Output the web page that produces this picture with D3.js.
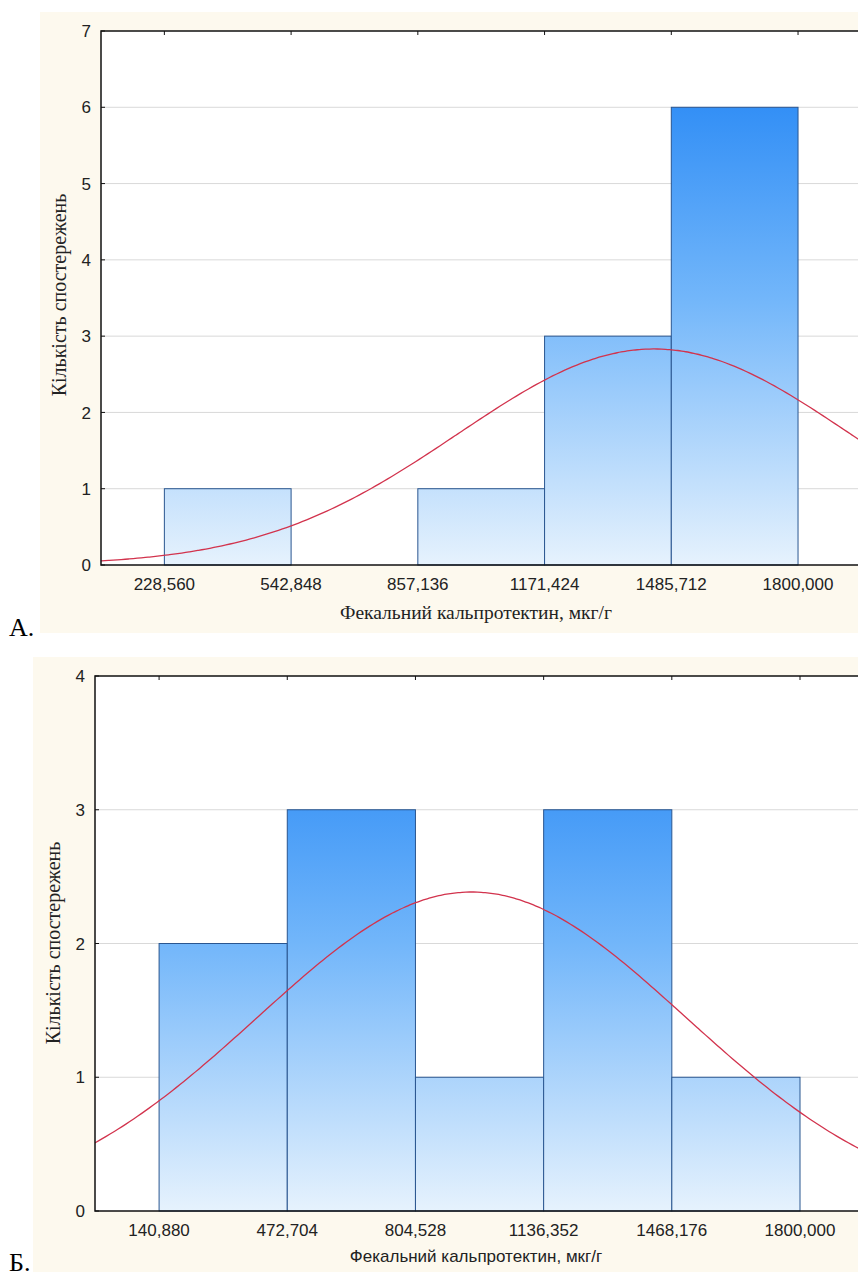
<!DOCTYPE html>
<html>
<head>
<meta charset="utf-8">
<script src="https://cdn.jsdelivr.net/npm/d3@7"></script>
<style>
  body { margin: 0; background: #fff; }
  svg { display: block; }
</style>
</head>
<body>
<svg id="chart" width="858" height="1278"></svg>
<script>
// chart A
var edgesA = [228.560, 542.848, 857.136, 1171.424, 1485.712, 1800.000];
var countsA = [1, 0, 1, 3, 6];
var yTicksA = [0, 1, 2, 3, 4, 5, 6, 7];
var fitA = { mean: 1443, sd: 487, n: 11 };

// chart B
var edgesB = [140.880, 472.704, 804.528, 1136.352, 1468.176, 1800.000];
var countsB = [2, 3, 1, 3, 1];
var yTicksB = [0, 1, 2, 3, 4];
var fitB = { mean: 950, sd: 555, n: 10 };

var yLabel = 'Кількість спостережень';
var xLabel = 'Фекальний кальпротектин, мкг/г';

var locale = d3.formatLocale({ decimal: ',', thousands: '', grouping: [3] });
var fmt = locale.format('.3f');

var svg = d3.select('#chart');
var defs = svg.append('defs');

function drawHist(cfg) {
    var edges = cfg.edges, w = edges[1] - edges[0];
    var g = svg.append('g');

    g.append('rect')
        .attr('x', cfg.panel[0]).attr('y', cfg.panel[1])
        .attr('width', cfg.panel[2]).attr('height', cfg.panel[3])
        .attr('fill', '#fdf9ee');

    var x = d3.scaleLinear()
        .domain([edges[0] - w / 2, edges[edges.length - 1] + w / 2])
        .range([cfg.left, cfg.right]);
    var y = d3.scaleLinear()
        .domain([0, d3.max(cfg.yTicks)])
        .range([cfg.bottom, cfg.top]);

    g.append('rect')
        .attr('x', cfg.left).attr('y', cfg.top)
        .attr('width', cfg.right - cfg.left).attr('height', cfg.bottom - cfg.top)
        .attr('fill', '#fff');

    var clipId = 'clip-' + cfg.id;
    defs.append('clipPath').attr('id', clipId)
        .append('rect')
        .attr('x', cfg.left).attr('y', cfg.top)
        .attr('width', cfg.right - cfg.left).attr('height', cfg.bottom - cfg.top);

    var gradId = 'grad-' + cfg.id;
    var grad = defs.append('linearGradient').attr('id', gradId)
        .attr('gradientUnits', 'userSpaceOnUse')
        .attr('x1', 0).attr('x2', 0)
        .attr('y1', cfg.bottom).attr('y2', cfg.top);
    grad.append('stop').attr('offset', 0).attr('stop-color', '#e6f2fd');
    grad.append('stop').attr('offset', 0.5).attr('stop-color', '#72b6fa');
    grad.append('stop').attr('offset', 1).attr('stop-color', '#1a80f4');

    // grid
    g.append('g').selectAll('line')
        .data(cfg.yTicks.slice(1, -1))
        .join('line')
        .attr('x1', cfg.left).attr('x2', cfg.right)
        .attr('y1', function(d) { return y(d); })
        .attr('y2', function(d) { return y(d); })
        .attr('stroke', '#d9d9d9').attr('stroke-width', 1);

    var bins = cfg.counts.map(function(c, i) {
        return { x0: edges[i], x1: edges[i + 1], n: c };
    });
    g.append('g').selectAll('rect')
        .data(bins.filter(function(d) { return d.n > 0; }))
        .join('rect')
        .attr('x', function(d) { return x(d.x0); })
        .attr('y', function(d) { return y(d.n); })
        .attr('width', function(d) { return x(d.x1) - x(d.x0); })
        .attr('height', function(d) { return y(0) - y(d.n); })
        .attr('fill', 'url(#' + gradId + ')')
        .attr('stroke', '#2a5690').attr('stroke-width', 1);

    // fitted normal curve
    var fit = cfg.fit;
    var pts = d3.range(x.domain()[0], x.domain()[1] + 1, 10).map(function(v) {
        var z = (v - fit.mean) / fit.sd;
        return [v, fit.n * w * Math.exp(-z * z / 2) / (fit.sd * Math.sqrt(2 * Math.PI))];
    });
    g.append('path')
        .datum(pts)
        .attr('clip-path', 'url(#' + clipId + ')')
        .attr('fill', 'none')
        .attr('stroke', '#d2334d').attr('stroke-width', 1.3)
        .attr('d', d3.line()
            .x(function(d) { return x(d[0]); })
            .y(function(d) { return y(d[1]); })
            .curve(d3.curveBasis));

    // frame
    g.append('rect')
        .attr('x', cfg.left).attr('y', cfg.top)
        .attr('width', cfg.right - cfg.left).attr('height', cfg.bottom - cfg.top)
        .attr('fill', 'none').attr('stroke', '#111').attr('stroke-width', 1.5);

    // top ticks
    g.append('g').selectAll('line')
        .data(edges)
        .join('line')
        .attr('x1', function(d) { return x(d); })
        .attr('x2', function(d) { return x(d); })
        .attr('y1', cfg.top).attr('y2', cfg.top + 4)
        .attr('stroke', '#111');

    // left ticks
    g.append('g').selectAll('line')
        .data(cfg.yTicks)
        .join('line')
        .attr('x1', cfg.left).attr('x2', cfg.left + 4)
        .attr('y1', function(d) { return y(d); })
        .attr('y2', function(d) { return y(d); })
        .attr('stroke', '#111');

    g.append('g').selectAll('text')
        .data(cfg.yTicks)
        .join('text')
        .attr('x', cfg.left - 10)
        .attr('y', function(d) { return y(d); })
        .attr('dy', '0.36em')
        .attr('text-anchor', 'end')
        .attr('font-family', 'Liberation Sans, Arial, sans-serif')
        .attr('font-size', 17)
        .attr('fill', '#222')
        .text(function(d) { return d; });

    g.append('g').selectAll('text')
        .data(edges)
        .join('text')
        .attr('x', function(d) { return x(d); })
        .attr('y', cfg.bottom + 25)
        .attr('text-anchor', 'middle')
        .attr('font-family', 'Liberation Sans, Arial, sans-serif')
        .attr('font-size', 17)
        .attr('fill', '#222')
        .text(function(d) { return fmt(d); });

    g.append('text')
        .attr('transform', 'translate(' + cfg.yLabelX + ',' + cfg.yLabelY + ') rotate(-90)')
        .attr('text-anchor', 'middle')
        .attr('font-family', 'Liberation Serif, Times New Roman, serif')
        .attr('font-size', 20)
        .attr('fill', '#222')
        .text(yLabel);

    g.append('text')
        .attr('x', 476).attr('y', cfg.xLabelY)
        .attr('text-anchor', 'middle')
        .attr('font-family', cfg.xLabelFont)
        .attr('font-size', cfg.xLabelSize)
        .attr('fill', '#222')
        .text(xLabel);

    svg.append('text')
        .attr('x', 9).attr('y', cfg.letterY)
        .attr('font-family', 'Liberation Serif, Times New Roman, serif')
        .attr('font-size', 26)
        .attr('fill', '#000')
        .text(cfg.letter);
}

drawHist({
    id: 'a', edges: edgesA, counts: countsA, yTicks: yTicksA, fit: fitA,
    panel: [40, 12, 818, 621],
    left: 101, right: 861.4, top: 31, bottom: 565,
    yLabelX: 66, yLabelY: 295, xLabelY: 619,
    xLabelFont: 'Liberation Serif, Times New Roman, serif', xLabelSize: 19.5,
    letter: 'A.', letterY: 636
});

drawHist({
    id: 'b', edges: edgesB, counts: countsB, yTicks: yTicksB, fit: fitB,
    panel: [33, 657, 825, 615],
    left: 95, right: 864.1, top: 676, bottom: 1211,
    yLabelX: 60, yLabelY: 943, xLabelY: 1262,
    xLabelFont: 'Liberation Sans, Arial, sans-serif', xLabelSize: 17,
    letter: 'Б.', letterY: 1271
});
</script>
</body>
</html>
